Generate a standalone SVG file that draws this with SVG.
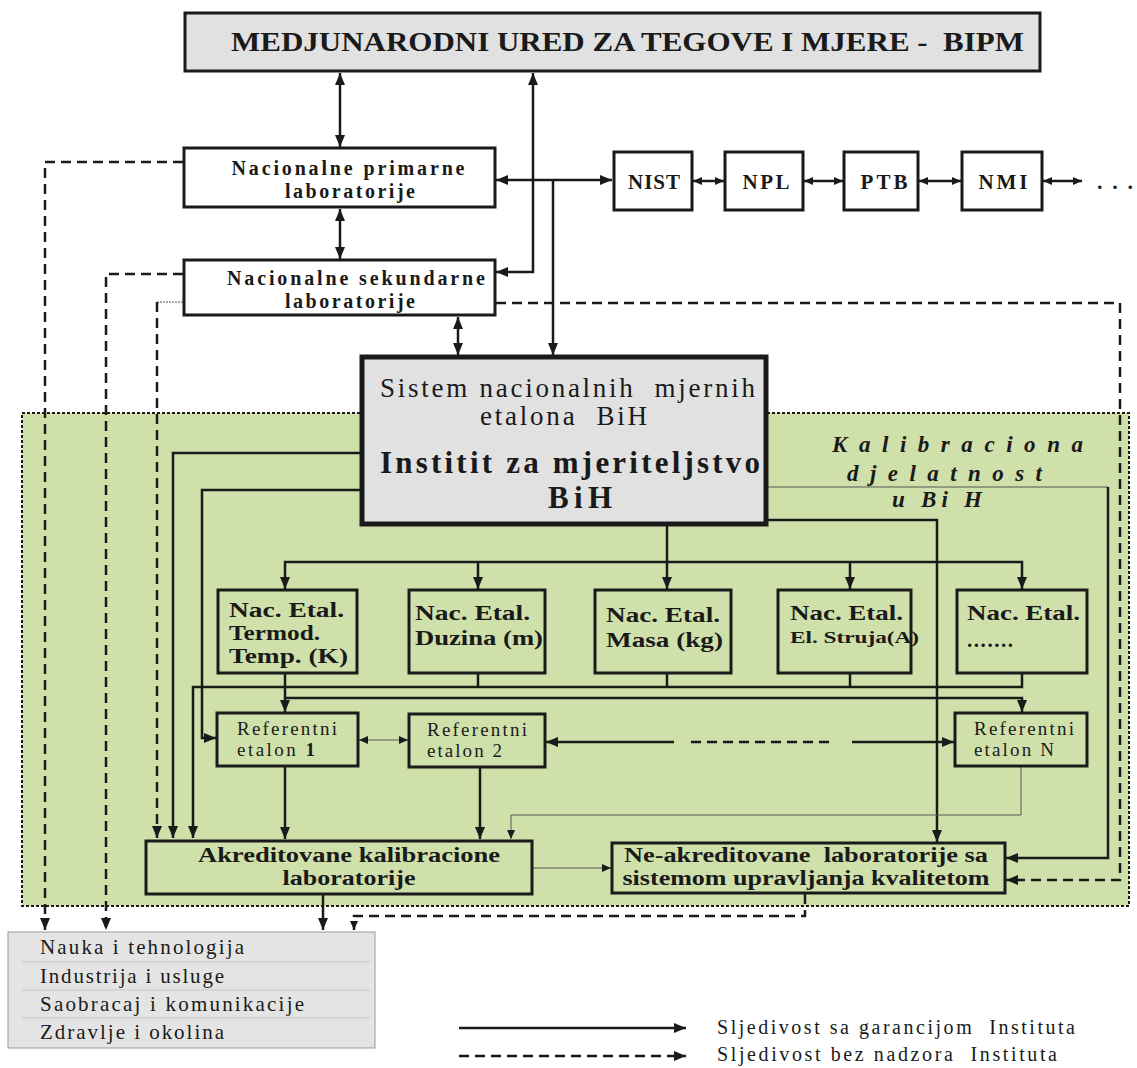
<svg xmlns="http://www.w3.org/2000/svg" width="1137" height="1068" viewBox="0 0 1137 1068">
<style>
text{font-family:"Liberation Serif","Times New Roman",serif;fill:#1a1a1a}
.b{font-weight:bold}
.bi{font-weight:bold;font-style:italic}
.box{fill:none;stroke:#1a1a1a;stroke-width:3}
.wbox{fill:#fff;stroke:#1a1a1a;stroke-width:3}
.ln{fill:none;stroke:#1a1a1a;stroke-width:2.5}
.th{fill:none;stroke:#555;stroke-width:1}
.ds{stroke-dasharray:10 6}
.ea{marker-end:url(#a)}
.sa{marker-start:url(#a)}
.es{marker-end:url(#s)}
.ss{marker-start:url(#s)}
</style>
<defs>
<marker id="a" viewBox="0 0 12 10" refX="12" refY="5" markerWidth="12" markerHeight="10" markerUnits="userSpaceOnUse" orient="auto-start-reverse"><path d="M0,0 L12,5 L0,10 z" fill="#1a1a1a"/></marker>
<marker id="s" viewBox="0 0 9 8" refX="9" refY="4" markerWidth="9" markerHeight="8" markerUnits="userSpaceOnUse" orient="auto-start-reverse"><path d="M0,0 L9,4 L0,8 z" fill="#1a1a1a"/></marker>
</defs>
<rect width="1137" height="1068" fill="#fff"/>
<g id="kalibraciona-region">
<rect x="22" y="413" width="1107" height="493" fill="#d0e0aa" stroke="#1a1a1a" stroke-width="2" stroke-dasharray="3 2"/>
</g>
<g id="connectors">
<path class="ln sa ea" d="M340,73 V147"/>
<path class="ln sa ea" d="M533,73 V272 H496"/>
<path class="ln sa ea" d="M496,180 H612"/>
<path class="ln ea" d="M553,180 V355"/>
<path class="ln sa ea" d="M340,209 V259"/>
<path class="ln sa ea" d="M458,317 V355"/>
<path class="ln ss es" d="M693,181 H724"/>
<path class="ln ss es" d="M804,181 H843"/>
<path class="ln ss es" d="M919,181 H961"/>
<path class="ln ss es" d="M1043,181 H1082"/>
<path class="ln ds ea" d="M183,162 H45 V930"/>
<path class="ln ds ea" d="M183,274 H106 V930"/>
<path class="th" stroke-dasharray="2 1" d="M183,302 H157"/>
<path class="ln ds ea" d="M157,302 V838"/>
<path class="ln ds ea" d="M496,303 H1120 V880 H1006"/>
<path class="ln ds es" d="M805,894 V916 H354 V930"/>
<path class="ln ea" d="M362,453 H173 V838"/>
<path class="ln ea" d="M362,490 H202 V738 H216"/>
<path class="ln ea" d="M1022,673 V687 H193 V838"/>
<path class="ln" d="M478,673 V687 M667,673 V687 M850,673 V687"/>
<path class="ln ea" d="M285,673 V712"/>
<path class="ln ea" d="M285,698 H1022 V712"/>
<path class="ln sa ea" d="M285,589 V562 H1022 V589"/>
<path class="ln ea" d="M478,562 V589"/>
<path class="ln ea" d="M850,562 V589"/>
<path class="ln ea" d="M667,526 V589"/>
<path class="ln ea" d="M766,520 H937 V842"/>
<path class="th" d="M766,487 H1108"/>
<path class="ln ea" d="M1108,487 V858 H1006"/>
<path class="th ss es" d="M359,740 H408"/>
<path class="ln sa" d="M546,742 H674"/>
<path class="ln ds" d="M691,742 H832"/>
<path class="ln ea" d="M852,742 H954"/>
<path class="ln ea" d="M285,767 V839"/>
<path class="ln ea" d="M480,768 V839"/>
<path class="th es" d="M1021,767 V815 H511 V839"/>
<path class="th es" d="M533,868 H611"/>
<path class="ln ea" d="M323,895 V930"/>
</g>
<g id="bipm">
<rect x="185" y="13" width="855" height="58" fill="#e1e1e1" stroke="#1a1a1a" stroke-width="3"/>
<text class="b" x="231" y="51" font-size="27" textLength="793" lengthAdjust="spacingAndGlyphs" xml:space="preserve">MEDJUNARODNI URED ZA TEGOVE I MJERE -  BIPM</text>
</g>
<g id="nac-primarne">
<rect class="wbox" x="184" y="148" width="311" height="59"/>
<text class="b" x="348" y="175" font-size="20" text-anchor="middle" textLength="233" lengthAdjust="spacing">Nacionalne primarne</text>
<text class="b" x="350" y="198" font-size="20" text-anchor="middle" textLength="130" lengthAdjust="spacing">laboratorije</text>
</g>
<g id="nac-sekundarne">
<rect class="wbox" x="184" y="260" width="311" height="55"/>
<text class="b" x="356" y="285" font-size="20" text-anchor="middle" textLength="258" lengthAdjust="spacing">Nacionalne sekundarne</text>
<text class="b" x="350" y="308" font-size="20" text-anchor="middle" textLength="130" lengthAdjust="spacing">laboratorije</text>
</g>
<g id="nist">
<rect class="wbox" x="614" y="152" width="78" height="58"/>
<text class="b" x="654" y="189" font-size="21" text-anchor="middle" textLength="52" lengthAdjust="spacing">NIST</text>
</g>
<g id="npl">
<rect class="wbox" x="725" y="152" width="78" height="58"/>
<text class="b" x="766" y="189" font-size="21" text-anchor="middle" textLength="47" lengthAdjust="spacing">NPL</text>
</g>
<g id="ptb">
<rect class="wbox" x="844" y="152" width="74" height="58"/>
<text class="b" x="884" y="189" font-size="21" text-anchor="middle" textLength="47" lengthAdjust="spacing">PTB</text>
</g>
<g id="nmi">
<rect class="wbox" x="962" y="152" width="80" height="58"/>
<text class="b" x="1003" y="189" font-size="21" text-anchor="middle" textLength="49" lengthAdjust="spacing">NMI</text>
</g>
<g id="more">
<text class="b" x="1097" y="189" font-size="22" textLength="36" lengthAdjust="spacing">. . .</text>
</g>
<g id="sistem">
<rect x="362" y="357" width="404" height="167" fill="#e1e1e1" stroke="#1a1a1a" stroke-width="5"/>
<text x="380" y="397" font-size="27" textLength="375" lengthAdjust="spacing" xml:space="preserve">Sistem nacionalnih  mjernih</text>
<text x="480" y="425" font-size="27" textLength="167" lengthAdjust="spacing" xml:space="preserve">etalona  BiH</text>
<text class="b" x="380" y="473" font-size="31" textLength="380" lengthAdjust="spacing">Institit za mjeriteljstvo</text>
<text class="b" x="548" y="508" font-size="31" textLength="64" lengthAdjust="spacing">BiH</text>
</g>
<g id="kalibraciona-label">
<text class="bi" x="832" y="452" font-size="23" textLength="251" lengthAdjust="spacing">Kalibraciona</text>
<text class="bi" x="847" y="481" font-size="23" textLength="195" lengthAdjust="spacing">djelatnost</text>
<text class="bi" x="892" y="507" font-size="23" textLength="90" lengthAdjust="spacing">u Bi H</text>
</g>
<g id="etalon-temp">
<rect class="box" x="218" y="590" width="139" height="83"/>
<text class="b" x="229" y="617" font-size="20" textLength="115" lengthAdjust="spacingAndGlyphs">Nac. Etal.</text>
<text class="b" x="229" y="640" font-size="20" textLength="91" lengthAdjust="spacingAndGlyphs">Termod.</text>
<text class="b" x="229" y="663" font-size="20" textLength="119" lengthAdjust="spacingAndGlyphs">Temp. (K)</text>
</g>
<g id="etalon-duzina">
<rect class="box" x="409" y="590" width="136" height="83"/>
<text class="b" x="415" y="620" font-size="21" textLength="115" lengthAdjust="spacingAndGlyphs">Nac. Etal.</text>
<text class="b" x="415" y="645" font-size="21" textLength="128" lengthAdjust="spacingAndGlyphs">Duzina (m)</text>
</g>
<g id="etalon-masa">
<rect class="box" x="595" y="590" width="136" height="83"/>
<text class="b" x="606" y="622" font-size="21" textLength="114" lengthAdjust="spacingAndGlyphs">Nac. Etal.</text>
<text class="b" x="606" y="647" font-size="21" textLength="117" lengthAdjust="spacingAndGlyphs">Masa (kg)</text>
</g>
<g id="etalon-struja">
<rect class="box" x="778" y="590" width="133" height="83"/>
<text class="b" x="790" y="620" font-size="21" textLength="113" lengthAdjust="spacingAndGlyphs">Nac. Etal.</text>
<text class="b" x="790" y="643" font-size="17" textLength="129" lengthAdjust="spacingAndGlyphs">El. Struja(A)</text>
</g>
<g id="etalon-other">
<rect class="box" x="957" y="590" width="130" height="83"/>
<text class="b" x="967" y="620" font-size="21" textLength="113" lengthAdjust="spacingAndGlyphs">Nac. Etal.</text>
<text class="b" x="967" y="647" font-size="21" textLength="46" lengthAdjust="spacing">.......</text>
</g>
<g id="ref-1">
<rect class="box" x="217" y="713" width="141" height="53"/>
<text x="237" y="735" font-size="19" textLength="100" lengthAdjust="spacing">Referentni</text>
<text x="237" y="756" font-size="19" textLength="78" lengthAdjust="spacing">etalon <tspan class="b">1</tspan></text>
</g>
<g id="ref-2">
<rect class="box" x="409" y="714" width="136" height="53"/>
<text x="427" y="736" font-size="19" textLength="100" lengthAdjust="spacing">Referentni</text>
<text x="427" y="757" font-size="19" textLength="75" lengthAdjust="spacing">etalon 2</text>
</g>
<g id="ref-n">
<rect class="box" x="955" y="713" width="132" height="53"/>
<text x="974" y="735" font-size="19" textLength="100" lengthAdjust="spacing">Referentni</text>
<text x="974" y="756" font-size="19" textLength="80" lengthAdjust="spacing">etalon N</text>
</g>
<g id="akreditovane">
<rect class="box" x="146" y="841" width="386" height="53"/>
<text class="b" x="349" y="862" font-size="20" text-anchor="middle" textLength="302" lengthAdjust="spacingAndGlyphs">Akreditovane kalibracione</text>
<text class="b" x="349" y="885" font-size="20" text-anchor="middle" textLength="133" lengthAdjust="spacingAndGlyphs">laboratorije</text>
</g>
<g id="ne-akreditovane">
<rect class="box" x="612" y="843" width="393" height="50"/>
<text class="b" x="806" y="862" font-size="20" text-anchor="middle" textLength="364" lengthAdjust="spacingAndGlyphs" xml:space="preserve">Ne-akreditovane  laboratorije sa</text>
<text class="b" x="806" y="885" font-size="20" text-anchor="middle" textLength="367" lengthAdjust="spacingAndGlyphs">sistemom upravljanja kvalitetom</text>
</g>
<g id="users">
<rect x="8" y="932" width="367" height="116" fill="#e4e4e4" stroke="#9a9a9a" stroke-width="1"/>
<path d="M22,962 H370 M22,990 H370 M22,1018 H370" stroke="#c4c4c4" stroke-width="1"/>
<text x="40" y="954" font-size="21" textLength="204" lengthAdjust="spacing">Nauka i tehnologija</text>
<text x="40" y="983" font-size="21" textLength="184" lengthAdjust="spacing">Industrija i usluge</text>
<text x="40" y="1011" font-size="21" textLength="264" lengthAdjust="spacing">Saobracaj i komunikacije</text>
<text x="40" y="1039" font-size="21" textLength="184" lengthAdjust="spacing">Zdravlje i okolina</text>
</g>
<g id="legend">
<path class="ln ea" d="M459,1028 H686"/>
<path class="ln ds ea" d="M459,1056 H686"/>
<text x="717" y="1034" font-size="20" textLength="358" lengthAdjust="spacing" xml:space="preserve">Sljedivost sa garancijom  Instituta</text>
<text x="717" y="1061" font-size="20" textLength="340" lengthAdjust="spacing" xml:space="preserve">Sljedivost bez nadzora  Instituta</text>
</g>
</svg>
